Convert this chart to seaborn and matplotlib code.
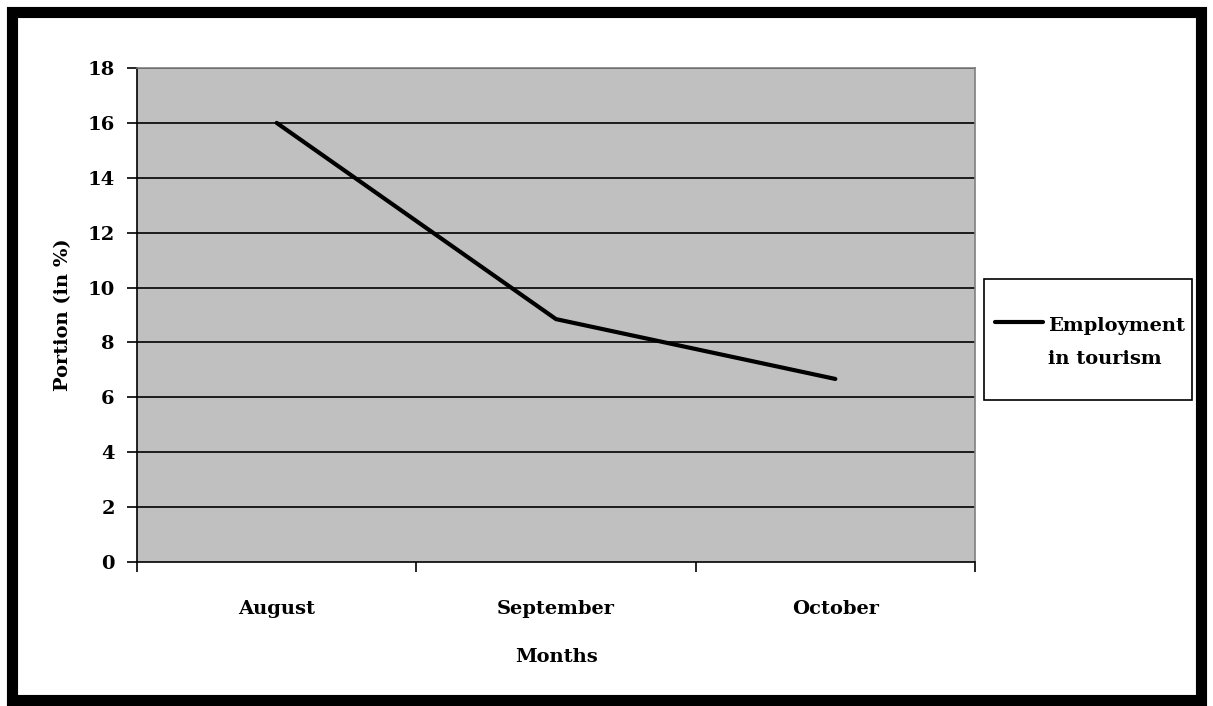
import matplotlib.pyplot as plt
import seaborn as sns
import pandas as pd
from matplotlib.patches import Rectangle

months = ["August", "September", "October"]
employment = [16.0, 8.85, 6.67]
y_ticks = [0, 2, 4, 6, 8, 10, 12, 14, 16, 18]
series_label = "Employment\nin tourism"

df = pd.DataFrame({"Months": months, "Portion": employment, "x": range(len(months))})

sns.set_style("white")
plt.rcParams["font.family"] = ["DejaVu Serif"]
plt.rcParams["font.weight"] = "bold"
plt.rcParams["text.color"] = "black"
plt.rcParams["axes.labelcolor"] = "black"
plt.rcParams["xtick.color"] = "black"
plt.rcParams["ytick.color"] = "black"
FS = 14

fig = plt.figure(figsize=(12.13, 7.06), dpi=100)
fig.patch.set_facecolor("white")
ax = fig.add_axes([137 / 1213, 144 / 706, 838 / 1213, 494 / 706])
ax.set_facecolor("#c0c0c0")

for y in y_ticks[1:]:
    ax.axhline(y, color="black", lw=1.2, zorder=1)

sns.lineplot(data=df, x="x", y="Portion", color="black", lw=3,
             label=series_label, ax=ax, zorder=3)

ax.set_xlim(-0.5, len(months) - 0.5)
ax.set_ylim(0, 18)
ax.set_yticks(y_ticks)
ax.set_yticklabels([str(v) for v in y_ticks], fontsize=FS, fontweight="bold")
ax.set_xticks([i - 0.5 for i in range(len(months) + 1)])
ax.set_xticklabels([""] * (len(months) + 1))
ax.set_xticks(range(len(months)), minor=True)
ax.set_xticklabels(months, minor=True, fontsize=FS, fontweight="bold")
ax.tick_params(axis="x", which="major", bottom=True, direction="out",
               length=7, width=1.2, color="black")
ax.tick_params(axis="x", which="minor", bottom=True, length=0, pad=27)
ax.tick_params(axis="y", left=True, direction="out", length=7, width=1.2,
               color="black", pad=9)
ax.set_xlabel("Months", fontsize=FS, fontweight="bold", labelpad=22)
ax.set_ylabel("Portion (in %)", fontsize=FS, fontweight="bold", labelpad=11)

for s in ["left", "bottom"]:
    ax.spines[s].set_color("black")
    ax.spines[s].set_linewidth(1.2)
for s in ["top", "right"]:
    ax.spines[s].set_color("#808080")
    ax.spines[s].set_linewidth(1.2)

# legend without frame, box drawn separately
leg = ax.legend(loc="upper left", bbox_to_anchor=(995 / 1213, 1 - 317 / 706),
                bbox_transform=fig.transFigure, frameon=False,
                prop={"size": FS, "weight": "bold"}, handlelength=2.45,
                handletextpad=0.3, borderpad=0, borderaxespad=0)
for t in leg.get_texts():
    t.set_linespacing(2.1)
    t.set_color("black")
for line in leg.get_lines():
    line.set_linewidth(3)
    line.set_ydata(line.get_ydata() + 1.05 * FS)

fig.patches.append(Rectangle((984 / 1213, 1 - 400 / 706), 208 / 1213, 121 / 706,
                             transform=fig.transFigure, fill=False,
                             edgecolor="black", lw=1.2))

# outer black frame
fig.patches.append(Rectangle((12 / 1213, 6 / 706), 1189 / 1213, 688 / 706,
                             transform=fig.transFigure, fill=False,
                             edgecolor="black", lw=8))

fig.savefig("out.png", dpi=100)
plt.close(fig)
